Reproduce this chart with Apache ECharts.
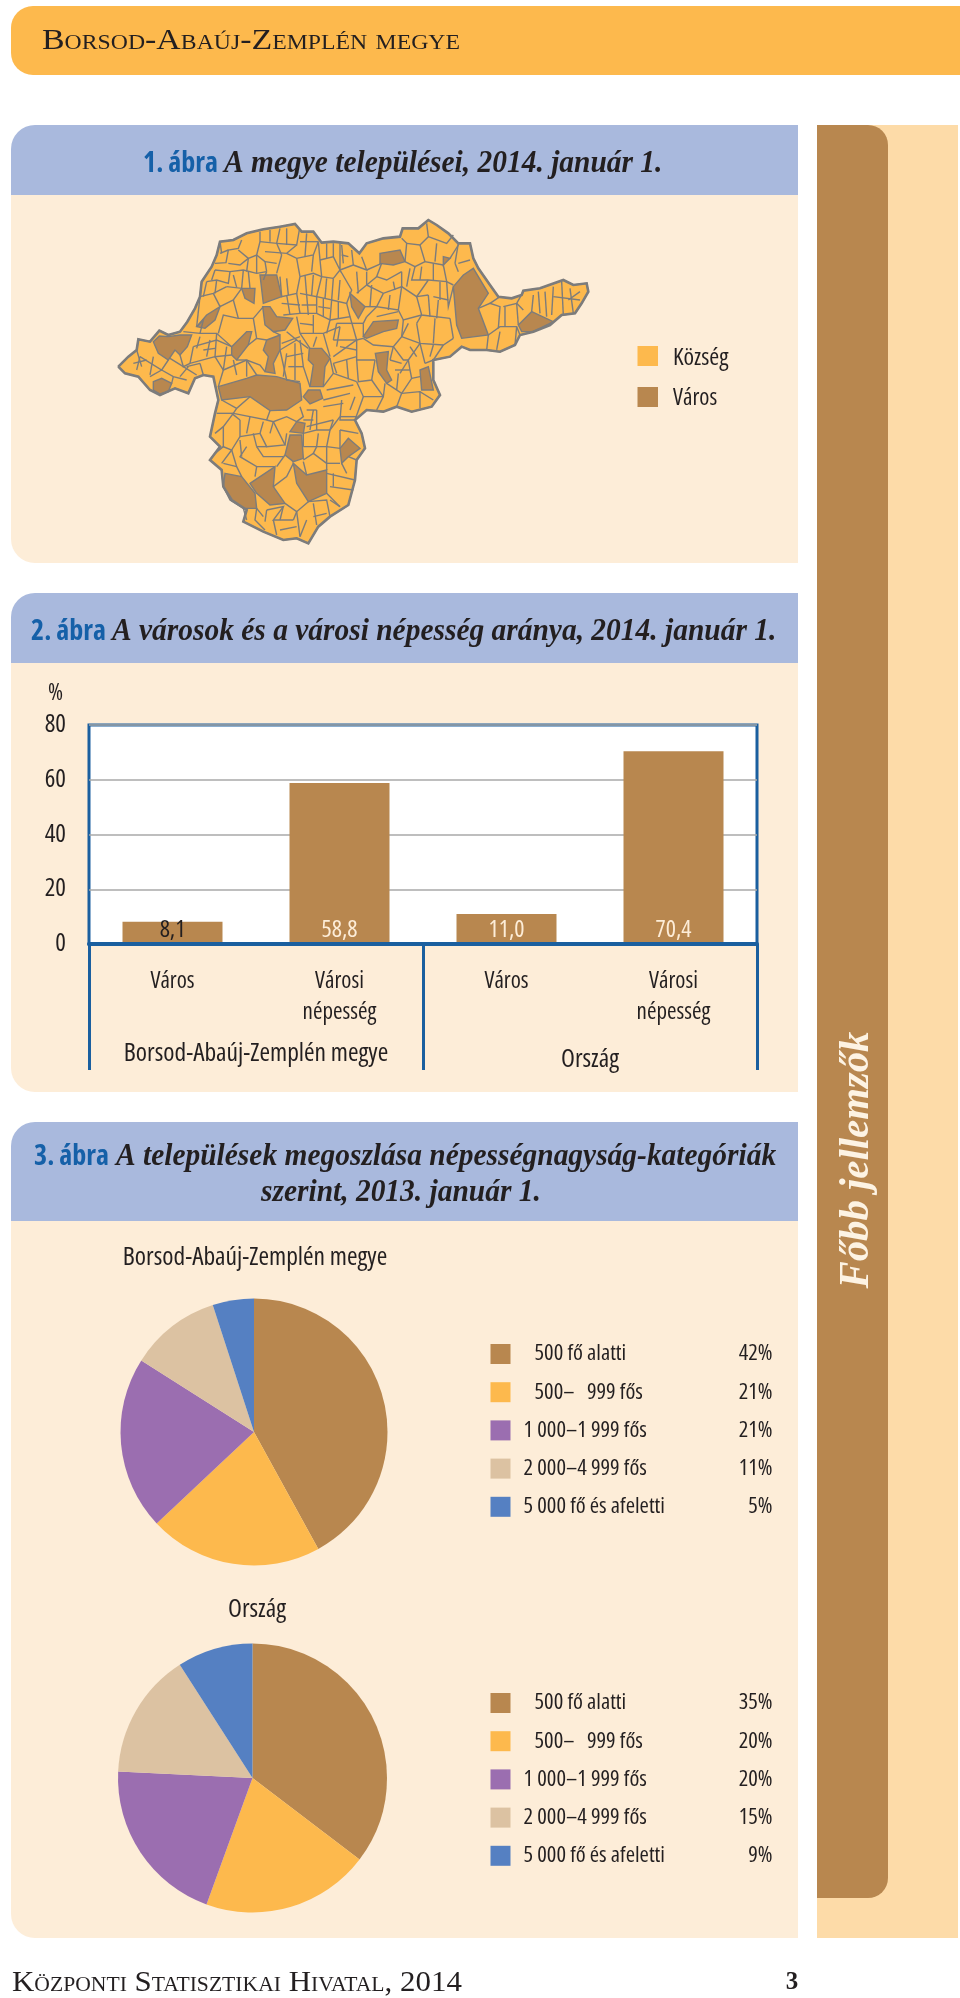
<!DOCTYPE html>
<html><head><meta charset="utf-8">
<style>html,body{margin:0;padding:0;background:#fff}#c{width:960px;height:1998px}</style>
<script src="https://cdn.jsdelivr.net/npm/echarts@6/dist/echarts.min.js"></script>
</head><body><div id="c"></div>
<script>
// ---- chart 2 data
const barCategories = ['Város', 'Városi\nnépesség', 'Város', 'Városi\nnépesség'];
const barGroups = ['Borsod-Abaúj-Zemplén megye', 'Ország'];
const barValues = [8.1, 58.8, 11.0, 70.4];
// ---- chart 3 data
const pieCategories = ['500 fő alatti', '500–\u00a0\u00a0\u00a0999 fős', '1\u00a0000–1\u00a0999 fős', '2\u00a0000–4\u00a0999 fős', '5\u00a0000 fő és afeletti'];
const pieCounty = [42, 21, 21, 11, 5];
const pieCountry = [35, 20, 20, 15, 9];
// ---- chart 1 legend
const mapLegend = ['Község', 'Város'];
// ---- chart 1 map geometry (flat x,y lists in map units)
const countyOutline = [55,500,85,470,110,450,115,418,150,425,178,392,205,405,240,395,262,365,285,325,300,290,305,245,335,200,350,165,360,125,400,120,440,100,490,88,540,80,585,72,605,95,640,95,665,128,700,125,745,130,778,160,800,130,850,115,900,110,908,85,955,85,985,60,1010,75,1045,100,1075,130,1110,130,1120,175,1135,205,1170,255,1195,290,1235,295,1265,285,1270,272,1320,265,1390,240,1420,255,1460,250,1465,275,1445,310,1425,340,1385,345,1350,375,1300,395,1260,405,1245,435,1200,455,1160,450,1110,450,1085,440,1050,470,1000,480,1000,540,1020,585,995,620,935,635,890,620,850,635,800,630,765,660,785,700,795,745,770,780,765,840,745,915,690,950,655,980,625,1030,590,1015,550,1020,490,995,430,965,440,930,395,900,370,860,365,810,330,780,360,740,330,710,345,640,355,600,340,530,310,525,285,535,265,580,225,565,180,585,150,570,115,530,75,520];
const townAreas = [
[160,425,178,408,205,410,240,405,275,405,262,440,240,465,225,450,205,480,175,460],
[160,545,185,535,215,550,205,575,180,582,160,570],
[290,380,320,345,360,320,345,360,315,385],
[425,265,465,265,462,310,435,295],
[480,225,530,225,545,290,490,310],
[488,320,510,320,530,350,578,355,555,390,520,395,495,375],
[395,440,440,395,455,395,445,435,410,480,395,465],
[500,420,540,405,540,450,520,490,525,520,495,515,505,470,490,450],
[355,560,440,535,470,525,530,530,600,550,605,600,560,630,510,632,450,590,365,600],
[628,445,665,445,690,475,675,500,670,560,630,560,640,495,625,480],
[610,590,625,570,660,570,668,595,630,612],
[750,280,795,320,775,355,755,320],
[790,410,820,365,895,360,890,385,850,395,800,415],
[840,160,900,150,915,185,880,195,840,190],
[826,460,865,455,860,510,875,540,860,550,835,515],
[960,510,985,500,1000,570,965,570],
[1090,225,1120,205,1165,280,1135,325,1165,405,1085,415,1070,375,1060,260],
[1030,170,1050,175,1030,195],
[1255,375,1295,335,1360,365,1300,395,1265,395],
[590,665,615,670,610,700,570,695],
[570,705,605,705,610,775,580,785,555,765],
[720,745,745,715,780,745,745,770,725,790],
[580,790,620,825,680,810,680,880,625,905,590,850],
[450,850,525,800,520,860,555,910,510,915,470,880],
[375,820,425,830,465,880,470,925,430,925,390,900,370,860]
];
const settlementBorders = [
[345,190,378,188,385,150,415,145,425,120],[415,150,445,175,470,165,495,185,500,215],[445,175,420,195,385,190],[470,165,480,125,480,95],[480,125,530,130,540,85],[530,130,590,135,598,90],[495,155,560,160,590,135],[560,160,590,175,640,165,655,125],[590,175,600,230],[640,165,635,215],[545,165,530,220],[500,215,470,220,430,210,390,215,345,210],[390,215,385,250,350,240,320,245],[430,210,425,265,380,260],[380,260,340,280,300,290],[340,280,360,320],[660,180,700,170,700,130],[700,170,720,210,720,130],[720,210,760,195,755,150],[660,180,665,230,700,235],[600,230,640,220,665,230],[700,235,720,210],[760,195,800,210,785,170],[800,210,845,190],[845,190,830,230,860,240,905,215],[915,185,920,130,905,115],[920,130,960,135,985,110,980,70],[985,110,1040,130,1060,105],[960,135,975,185,1030,195],[915,185,945,200,975,185],[945,200,935,240,985,240,1040,245,1060,255],[1030,195,1040,245],[1050,175,1075,135],[1075,190,1110,180],[830,230,800,255,770,280],[540,230,545,290,590,280,600,230],[590,280,600,340],[600,280,650,290,665,230],[650,290,650,340,600,340],[700,235,695,300,650,290],[695,300,740,310,755,270,720,210],[695,300,690,360,650,340],[740,310,750,350,690,360],[800,255,850,280,905,260,905,215],[850,280,830,320,895,330,905,260],[905,260,950,290,985,240],[950,290,965,345,1050,355],[985,285,990,350],[1040,245,1045,320,1060,260],[830,320,800,350],[895,330,910,360,965,345],[910,360,905,410,880,440,820,435,790,415],[950,370,960,430,1030,435,1060,415],[905,410,960,430],[1030,435,1000,480],[960,430,925,480,930,510],[880,440,910,480,925,480],[770,420,770,480,825,480],[700,470,770,420,790,415],[710,370,790,370],
[250,395,300,400,350,400,395,440],[300,400,310,360,290,380],[300,290,290,380],[360,320,400,300,425,265],[400,300,415,355,460,355,490,320],[415,355,370,345,355,400],[460,355,470,415,500,420],[470,415,445,435],[280,440,350,420,395,440],[350,400,345,470,395,465],[280,440,270,490,345,470],[240,465,250,500,270,490],[250,500,290,525],[345,470,370,510,440,480,480,495,495,515],[410,480,440,480],[370,510,355,560],[440,480,470,525],[205,480,185,510,120,470],[185,510,150,530],[185,510,220,530,260,540],[220,530,215,550],[110,450,125,500],
[540,450,590,420,625,445],[590,350,600,400,630,445],[520,395,540,405],[600,400,670,400,720,380],[670,400,690,470],[540,450,560,540,600,545],[600,420,610,500,630,560],[690,475,700,520,670,560],[700,520,770,545],[680,570,760,555],[670,600,750,580],[670,620,730,610],[770,480,775,545,815,540,825,480],[770,545,790,590,850,590,855,550],[815,540,850,590],[790,590,765,660],[850,590,830,630],[860,550,905,580,935,535,930,510],[905,580,890,620],[905,580,960,575,1000,600],[960,575,960,625],[935,535,960,530],[750,630,765,590],[725,600,720,660,765,660],
[365,600,410,625,450,590],[410,625,400,640,500,660,510,632],[400,640,370,680,345,700],[370,680,370,740,395,750,365,790],[420,660,420,710,395,750],[420,710,480,700,490,665],[480,700,500,740,555,735,520,665],[500,660,520,665,560,650,590,665],[395,750,410,800,425,830],[440,740,420,770,470,800,525,800],[470,740,490,770,550,770],[555,765,530,800],[610,700,650,690,650,630],[650,690,690,690,720,650],[610,740,680,740,720,745],[690,690,680,740,680,810],[610,780,640,760,680,790],[720,690,775,700],[620,825,610,785],[680,820,765,840],[690,860,760,870],[680,880,720,920],[625,905,680,900,690,950],[520,860,560,830,580,790],[555,910,590,935,625,905],[590,935,600,1010],[470,925,465,960,495,990],[500,930,550,920,520,960,580,960],[520,960,530,1005],[580,960,590,935],[600,620,610,650,590,665],[620,680,700,660],
[1165,405,1200,380,1250,380,1260,405],[1135,325,1170,310,1200,320,1195,385],[1170,310,1200,290],[1250,310,1255,375],[1210,320,1250,310,1270,275],[1295,335,1300,285],[1340,350,1335,275],[1390,345,1385,245],[1420,340,1410,265],[1360,290,1440,300],[1200,395,1190,450],[1165,405,1160,450],[1250,380,1245,435],
[360,125,365,160],[385,150,360,160],[445,175,440,215],[470,165,470,220],[495,185,530,190],[530,130,545,165],[510,90,510,125],[560,85,560,135],[620,100,615,170],[600,125,655,125],[655,125,660,180],[680,130,680,175],[725,135,730,190],[745,170,725,165],[500,215,490,240],
[335,240,345,210],[350,240,345,280],[320,245,310,290],[400,225,410,262],[445,215,450,265],
[560,235,565,285],[615,225,620,285],[640,225,635,285],[680,235,675,295],[720,240,715,300],[560,285,570,345],[620,285,625,345],[670,295,670,350],[715,305,715,355],[545,310,600,315],[605,315,650,315],[655,320,690,325],[550,345,600,340],
[795,320,830,320],[770,215,775,280],[800,215,800,255],[815,255,810,320],[880,245,885,270],[870,285,865,330],[830,350,895,335],[930,205,920,260],[965,200,960,240],[1000,190,1000,240],[1010,130,1005,185],[1075,130,1065,190],[1065,190,1075,215],[1020,245,1020,300],[950,290,985,285],[1000,290,1045,300],[1015,300,1010,355],[965,345,950,370],[1050,355,1060,415],[1005,355,1000,430],[905,410,925,370],
[720,380,710,440],[710,370,700,420],[640,345,640,400],[600,370,640,375],[690,360,680,400],[750,350,770,420],[790,370,790,410],[800,350,790,370],[700,420,770,420],[650,410,640,440],[720,440,770,450],[700,490,770,470],[710,520,700,490],[740,480,745,535],
[560,395,590,420],[545,430,600,410],[560,470,610,460],[565,500,610,500],[560,460,550,530],[585,430,585,540],
[925,480,900,520],[885,510,930,510],[880,440,870,480],[870,480,905,490],[895,520,890,570],[960,430,975,490],[975,490,1000,480],[930,440,950,470],[1000,435,990,470],
[330,420,320,470],[300,410,290,445],[310,450,345,445],[260,500,300,490],[300,490,310,525],[380,440,370,510],[400,480,410,525],[440,480,440,530],[210,475,250,500],[120,470,110,510],[160,470,150,525],[240,530,265,500],[100,490,140,480],
[1215,320,1215,380],[1270,330,1250,310],[1315,275,1320,340],[1360,260,1355,345],[1405,300,1440,275],
[350,640,400,640],[395,640,420,660],[450,650,440,700],[520,665,510,700],[460,700,470,740],[500,740,470,740],[425,770,420,720],[370,740,345,760],[410,800,370,790],[470,800,465,830],[555,735,560,700],[640,630,630,690],[620,630,650,630],[610,660,640,660],[700,660,690,690],[655,700,650,740],[720,650,770,650],[720,690,720,745],[610,740,610,700],[640,760,650,740],[680,790,720,790],[725,790,740,820],[700,820,700,860],[745,770,770,780],
[600,1010,620,960],[540,990,590,980],[490,950,470,925],[690,900,720,920],[640,910,650,975],[680,940,640,950],[500,930,495,965],[550,920,540,960],[430,925,440,960]
];

const C = {brown:'#B8874F', yellow:'#FDB94D', purple:'#9B6EB0', tan:'#DCC2A2', blue:'#5580C2', panel:'#FDEDD8', head:'#A9B9DD', strip:'#FDDBA8', title:'#1560A8', frame:'#1A5F9F', ink:'#231F20', outline:'#7C7C7C'};
const pieColors = [C.brown, C.yellow, C.purple, C.tan, C.blue];
const SANS = '"Open Sans"';
const NARROW = 'condensed';   // font-stretch keyword, picks the condensed face of Open Sans
const SERIF = '"Liberation Serif"';
const sans = (size, extra) => ({fontFamily:SANS, fontStyle:NARROW, fontWeight:'normal', fontSize:size, color:C.ink, ...(extra || {})});

const pairs = f => { const r = []; for (let i = 0; i < f.length; i += 2) r.push([f[i], f[i + 1]]); return r; };
const closed = f => { const p = pairs(f); p.push(p[0]); return p; };
const features = [{type:'Feature', properties:{name:'megye'}, geometry:{type:'Polygon', coordinates:[closed(countyOutline)]}}]
  .concat(townAreas.map((a, i) => ({type:'Feature', properties:{name:'varos' + i}, geometry:{type:'Polygon', coordinates:[closed(a)]}})));
echarts.registerMap('baz', {type:'FeatureCollection', features});

const rect = (x, y, w, h, fill, r) => ({type:'rect', silent:true, z:-10, shape:{x, y, width:w, height:h, r:r || 0}, style:{fill}});
const text = (t, x, y, font, fill, opt) => ({type:'text', silent:true, z:5, x, y, scaleX:(opt && opt.sx) || 1, rotation:(opt && opt.rot) || 0,
  style:{text:t, font, fill, textAlign:(opt && opt.align) || 'left', textVerticalAlign:'middle'}});
const BLUE = 'condensed bold 28px ' + SANS;
const ITAL = 'italic 600 31px ' + SERIF;
const ITAL_SX = 0.95;

const graphics = [
  rect(11, 6, 949, 69, C.yellow, [22,0,0,22]),
  rect(817, 125, 141, 1813, C.strip),
  rect(817, 125, 71, 1773, C.brown, [0,20,20,0]),
  rect(11, 125, 787, 70, C.head, [24,0,0,0]),
  rect(11, 195, 787, 368, C.panel, [0,0,0,24]),
  rect(11, 593, 787, 70, C.head, [24,0,0,0]),
  rect(11, 663, 787, 429, C.panel, [0,0,0,24]),
  rect(11, 1122, 787, 99, C.head, [24,0,0,0]),
  rect(11, 1221, 787, 717, C.panel, [0,0,0,24]),
  rect(637.5, 346, 20.5, 20, C.yellow),
  rect(637.5, 387, 20.5, 20, C.brown),
  text('Borsod-Abaúj-Zemplén megye', 42, 41, 'small-caps 30px ' + SERIF, C.ink, {sx:1.13}),
  text('1. ábra', 143, 164, BLUE, C.title),
  text('A megye települései, 2014. január 1.', 224, 164, ITAL, C.ink, {sx:ITAL_SX}),
  text('2. ábra', 31, 632, BLUE, C.title),
  text('A városok és a városi népesség aránya, 2014. január 1.', 112, 632, ITAL, C.ink, {sx:ITAL_SX}),
  text('3. ábra', 34, 1157, BLUE, C.title),
  text('A települések megoszlása népességnagyság-kategóriák', 116, 1157, ITAL, C.ink, {sx:ITAL_SX}),
  text('szerint, 2013. január 1.', 261, 1193, ITAL, C.ink, {sx:ITAL_SX}),
  text(mapLegend[0], 673, 358, 'condensed 24px ' + SANS, C.ink),
  text(mapLegend[1], 673, 398, 'condensed 23px ' + SANS, C.ink),
  text('Főbb jellemzők', 857, 1160, 'italic bold 42px ' + SERIF, '#FDF3E3', {rot:Math.PI / 2, align:'center', sx:0.97}),
  text('Központi Statisztikai Hivatal, 2014', 12, 1983, 'small-caps 30px ' + SERIF, C.ink, {sx:1.03}),
  text('3', 792, 1983, 'bold 25px ' + SERIF, C.ink, {align:'center'})
];

const pct = vals => name => vals[pieCategories.indexOf(name)] + '%';
const legendOf = (vals, top) => ({
  orient:'vertical', left:490.5, top, padding:0, itemWidth:20, itemHeight:20, itemGap:15.2, selectedMode:false, icon:'rect',
  data:pieCategories,
  formatter: name => {
    const s = pieCategories.indexOf(name) < 2 ? 'm' : 'n';
    return '{' + s + '|' + name + '}{p|' + pct(vals)(name) + '}';
  },
  textStyle:sans(22.5, {lineHeight:20, rich:{
      n:sans(22.5, {width:190, lineHeight:20, padding:[0,0,0,8]}),
      m:sans(22.5, {width:179, lineHeight:20, padding:[0,0,0,19]}),
      p:sans(22.5, {width:59, lineHeight:20, align:'right'})
  }})
});
const pieSeries = (name, vals, cx, cy, r) => ({
  type:'pie', name, center:[cx, cy], radius:r, startAngle:90, clockwise:true, silent:true,
  label:{show:false}, labelLine:{show:false}, color:pieColors, itemStyle:{borderWidth:0},
  data:pieCategories.map((c, i) => ({name:c, value:vals[i]}))
});

const chart = echarts.init(document.getElementById('c'), null, {renderer:'canvas', width:960, height:1998});
chart.setOption({
  animation:false,
  backgroundColor:'#fff',
  textStyle:{fontFamily:SANS},
  graphic:graphics,
  title:[
    {text:'Borsod-Abaúj-Zemplén megye', left:250, top:1240, textAlign:'center', textStyle:sans(25.5)},
    {text:'Ország', left:252, top:1592, textAlign:'center', textStyle:sans(25.5)}
  ],
  legend:[legendOf(pieCounty, 1342.5), legendOf(pieCountry, 1691.5)],
  geo:{
    map:'baz', roam:false, silent:true, left:118.33, top:220, width:470, height:323.33,
    projection:{project:p => p, unproject:p => p},
    label:{show:false},
    itemStyle:{areaColor:C.brown, borderColor:C.outline, borderWidth:1.4},
    regions:[{name:'megye', itemStyle:{areaColor:C.yellow}}],
    emphasis:{disabled:true}
  },
  grid:{left:89, right:203, top:725, bottom:1054, show:true, backgroundColor:'#fff', borderColor:C.frame, borderWidth:3},
  xAxis:[
    {type:'category', data:barCategories, position:'bottom',
      axisLine:{lineStyle:{color:C.frame, width:4}}, z:10,
      axisTick:{show:false},
      axisLabel:sans(23, {interval:0, margin:22, lineHeight:31, verticalAlign:'top'})},
    {type:'category', position:'bottom',
      data:[barGroups[0], {value:barGroups[1], textStyle:{padding:[6,0,0,0]}}],
      axisLine:{show:false},
      axisTick:{show:true, length:126, lineStyle:{color:C.frame, width:3}},
      axisLabel:sans(25.5, {interval:0, margin:93, lineHeight:33, verticalAlign:'top'})}
  ],
  yAxis:{type:'value', min:0, max:80, interval:20, name:'%', nameLocation:'end', nameGap:20,
    nameTextStyle:sans(23, {align:'right', padding:[0,26,0,0]}),
    axisLine:{show:false}, axisTick:{show:false},
    axisLabel:sans(25, {margin:23}),
    splitLine:{lineStyle:{color:'#A9A9A9', width:1.5}}},
  series:[
    {type:'bar', xAxisIndex:0, yAxisIndex:0, barWidth:100, silent:true, itemStyle:{color:C.brown},
      data:barValues.map((v, i) => ({value:v, label:{color:i === 0 ? C.ink : '#FDEDD8'}})),
      label:{show:true, position:'insideBottom', distance:2, fontFamily:SANS, fontStyle:NARROW, fontSize:24,
        formatter:p => p.value.toFixed(1).replace('.', ',')}},
    {type:'lines', coordinateSystem:'geo', polyline:true, silent:true, z:3,
      lineStyle:{color:C.outline, width:1.4, opacity:1},
      data:settlementBorders.map(b => ({coords:pairs(b)}))},
    {type:'lines', coordinateSystem:'geo', polyline:true, silent:true, z:4,
      lineStyle:{color:C.outline, width:2.6, opacity:1},
      data:[{coords:closed(countyOutline)}]},
    pieSeries('Borsod-Abaúj-Zemplén megye', pieCounty, 254, 1432, 133.5),
    pieSeries('Ország', pieCountry, 252.5, 1778, 134.5)
  ]
});
</script></body></html>
